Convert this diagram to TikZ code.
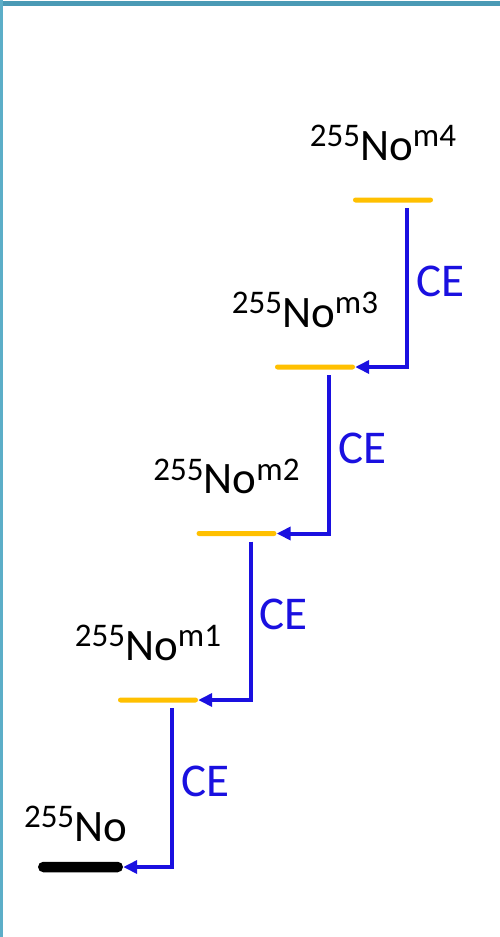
\documentclass[tikz,border=0pt]{standalone}
\usepackage{fontspec}
\setmainfont{Carlito}
\usetikzlibrary{arrows.meta,positioning,calc}
\definecolor{Frame}{HTML}{4A9AB5}
\definecolor{FrameLight}{HTML}{5CAEC8}
\definecolor{Gold}{HTML}{FFC000}
\definecolor{Decay}{HTML}{1A10E0}
\newcommand{\nuc}[2]{\raisebox{0.3em}{\fontsize{33}{36}\selectfont #1}No\raisebox{0.3em}{\fontsize{33}{36}\selectfont #2}}

\begin{document}
\begin{tikzpicture}[
    x=1pt, y=-1pt,
    stateline/.style={
        fill=Gold,
        inner sep=0pt,
        minimum width=80pt,
        minimum height=5pt,
        rounded corners=2.5pt
    },
    groundline/.style={
        fill=black,
        inner sep=0pt,
        minimum width=85pt,
        minimum height=10.5pt,
        rounded corners=5.25pt
    },
    decay/.style={
        -{Triangle[length=14pt,width=13pt]},
        line width=4pt,
        draw=Decay
    },
    celabel/.style={
        font=\fontsize{47}{50}\selectfont,
        text=Decay,
        anchor=west,
        inner sep=7pt
    },
    nuclabel/.style={
        font=\fontsize{45}{50}\selectfont,
        anchor=base,
        inner sep=0pt
    }
]

% Background and frame
\useasboundingbox (0,0) rectangle (500,937);
\fill[white] (0,0) rectangle (500,937);
\draw[Frame, line width=5pt] (0,3) -- (500,3);
\draw[FrameLight, line width=2.5pt] (1.25,0) -- (1.25,937);

% Levels
\node[groundline] (g0) at (80.5,867) {};
\node[stateline] (m1) at (158,700) {};
\node[stateline] (m2) at (236.5,533.5) {};
\node[stateline] (m3) at (315,367) {};
\node[stateline] (m4) at (393,200) {};

% Level labels
\node[nuclabel] (l0) at ([xshift=-5pt,yshift=26pt]g0.center) {\nuc{255}{}};
\node[nuclabel] (l1) at ([xshift=-10pt,yshift=40pt]m1.center) {\nuc{255}{m1}};
\node[nuclabel] (l2) at ([xshift=-10pt,yshift=40pt]m2.center) {\nuc{255}{m2}};
\node[nuclabel] (l3) at ([xshift=-10pt,yshift=40pt]m3.center) {\nuc{255}{m3}};
\node[nuclabel] (l4) at ([xshift=-10pt,yshift=40pt]m4.center) {\nuc{255}{m4}};

% Decays
\draw[decay] ([xshift=-26pt,yshift=-5.5pt]m4.south east) |- node[celabel, pos=0.23] (ce4) {CE} (m3.east);
\draw[decay] ([xshift=-26pt,yshift=-5.5pt]m3.south east) |- node[celabel, pos=0.23] (ce3) {CE} (m2.east);
\draw[decay] ([xshift=-26pt,yshift=-5.5pt]m2.south east) |- node[celabel, pos=0.23] (ce2) {CE} (m1.east);
\draw[decay] ([xshift=-26pt,yshift=-5.5pt]m1.south east) |- node[celabel, pos=0.23] (ce1) {CE} (g0.east);

\end{tikzpicture}
\end{document}
